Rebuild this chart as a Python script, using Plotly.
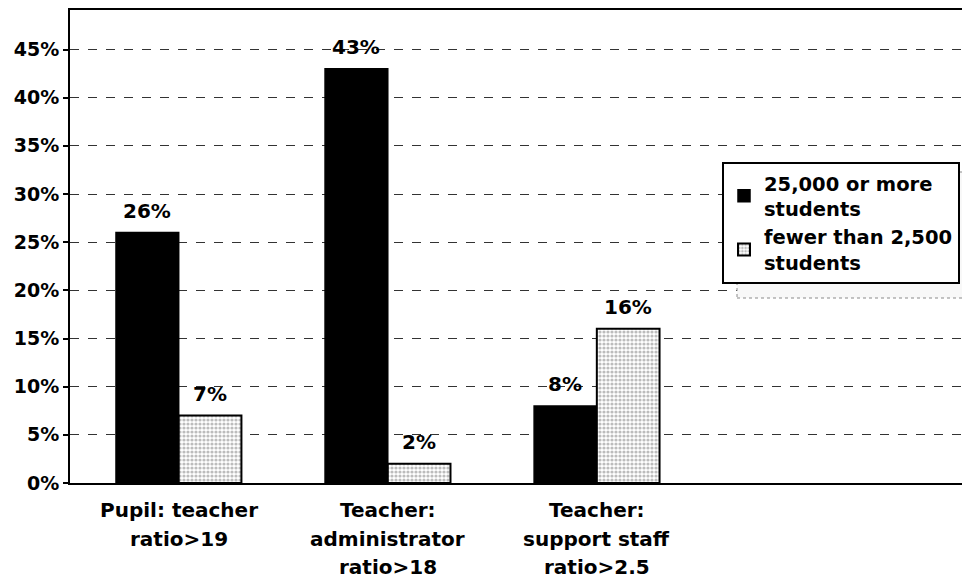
import plotly.graph_objects as go

categories = ["Pupil: teacher<br>ratio>19", "Teacher:<br>administrator<br>ratio>18", "Teacher:<br>support staff<br>ratio>2.5"]
large_districts = [26, 43, 8]
small_districts = [7, 2, 16]
series_names = ["25,000 or more<br>students", "fewer than 2,500<br>students"]
y_ticks = [0, 5, 10, 15, 20, 25, 30, 35, 40, 45]

FONT = "DejaVu Sans"
fs = 19
bold = dict(family=FONT, size=fs, color="black", weight="bold")
bold20 = dict(family=FONT, size=20, color="black", weight="bold")
boldleg = dict(family=FONT, size=19.5, color="black", weight="bold")

# page body offset compensation (plot area: x 70..970, y 10..483 on the page)
OFF = 8
L, T, B = 70 - OFF, 10 - OFF, 586 - (483 - OFF)
R = OFF
PW = 970 - L - R
PH = 586 - T - B

BARGAP = 0.4
HALF = (1 - BARGAP) / 4  # centre offset of each bar within a group

fig = go.Figure()
fig.add_trace(go.Bar(
    x=categories, y=large_districts, name=series_names[0],
    marker=dict(color="black", line=dict(color="black", width=1.5)),
))
fig.add_trace(go.Bar(
    x=categories, y=small_districts, name=series_names[1],
    marker=dict(color="white", line=dict(color="black", width=2),
                pattern=dict(shape=".", fgcolor="#7a7a7a", bgcolor="white", size=4, solidity=0.5)),
))

annotations = []
for i, (a, b) in enumerate(zip(large_districts, small_districts)):
    for off, v in ((-HALF, a), (HALF, b)):
        annotations.append(dict(x=i + off, y=v, xref="x", yref="y", text=f"{v}%",
                                showarrow=False, yanchor="bottom", yshift=8, font=bold20))
    for j, line in enumerate(categories[i].split("<br>")):
        annotations.append(dict(x=i, y=0, xref="x", yref="y", text=line, showarrow=False,
                                yanchor="middle", yshift=-(27 + 28.5 * j), font=bold20))

fig.update_layout(
    width=970, height=586,
    margin=dict(l=L, r=R, t=T, b=B, autoexpand=False),
    paper_bgcolor="white", plot_bgcolor="white",
    barmode="group", bargap=BARGAP, bargroupgap=0,
    font=bold,
    annotations=annotations,
    legend=dict(
        x=(722 - 70) / PW, y=1 - (162 - 10) / PH, xanchor="left", yanchor="top",
        bgcolor="white", bordercolor="black", borderwidth=2,
        font=boldleg, tracegroupgap=7, itemwidth=30,
    ),
    showlegend=True,
)
# legend shadow
fig.add_shape(type="rect", xref="paper", yref="paper",
              x0=(737 - 70) / PW, x1=(967 - 70) / PW,
              y0=1 - (298 - 10) / PH, y1=1 - (172 - 10) / PH,
              line=dict(color="#8a8a8a", width=1, dash="dot"), fillcolor="#f8f8f8", layer="above")

fig.update_xaxes(
    range=[-0.52, 3.785], showline=True, linecolor="black", linewidth=2, mirror=True,
    ticks="", showgrid=False, showticklabels=False, automargin=False,
)
fig.update_yaxes(
    range=[0, 49.1], tickvals=y_ticks, ticktext=[f"{v}%" for v in y_ticks],
    showline=True, linecolor="black", linewidth=2,
    ticks="outside", ticklen=5, tickwidth=1.5, tickcolor="black",
    showgrid=True, gridcolor="#333", gridwidth=1, griddash="dash",
    tickfont=bold, zeroline=False, automargin=False,
)

fig.write_html("out.html")
